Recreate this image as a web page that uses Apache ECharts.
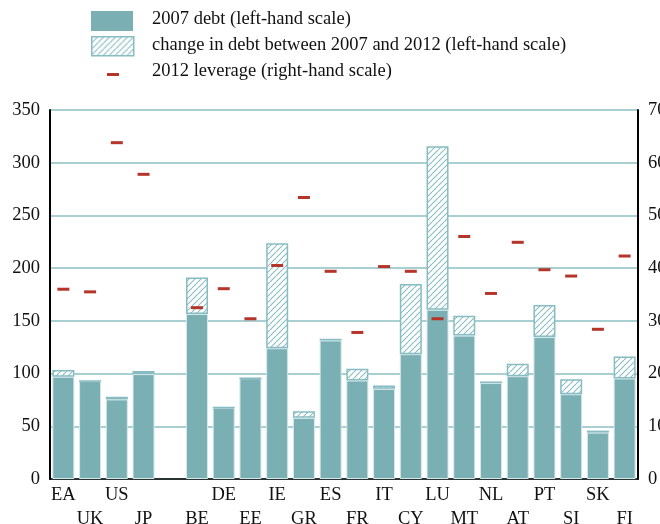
<!DOCTYPE html>
<html>
<head>
<meta charset="utf-8">
<script src="https://cdn.jsdelivr.net/npm/echarts@6/dist/echarts.min.js"></script>
<style>
html,body{margin:0;padding:0;background:#fff;}
#chart{width:660px;height:524px;}
</style>
</head>
<body>
<div id="chart"></div>
<script>
// ---- data ----
var categories = ['EA','UK','US','JP','','BE','DE','EE','IE','GR','ES','FR','IT','CY','LU','MT','NL','AT','PT','SI','SK','FI'];
var debt2007 = [97, 93, 75.5, 99.5, '-', 156.5, 67.7, 95.6, 124, 58, 131.4, 93.4, 85.5, 118.4, 160.5, 136, 91, 97.5, 134.6, 80.4, 44, 95.3];
var debtChange = [6.5, 0, 2.5, 3, '-', 34.7, 0, 0, 99.5, 6.3, 1.6, 11.1, 3.1, 66.5, 155.1, 18.8, 1.5, 11.7, 30.4, 14.3, 1.9, 20.9];
var leverage2012 = [36.0, 35.5, 63.8, 57.8, '-', 32.5, 36.1, 30.4, 40.5, 53.4, 39.4, 27.8, 40.3, 39.4, 30.4, 46.0, 35.2, 44.9, 39.7, 38.5, 28.4, 42.3];
var leftTicks = { min: 0, max: 350, interval: 50 };
var rightTicks = { min: 0, max: 70, interval: 10 };
var seriesNames = ['2007 debt (left-hand scale)', 'change in debt between 2007 and 2012 (left-hand scale)', '2012 leverage (right-hand scale)'];

// ---- styles ----
var FONT = '"Liberation Serif", "DejaVu Serif", serif';
var TEAL = '#7aafb4';
var HATCH = '#86bcc2';
var RED = '#b5352a';

function makeHatch() {
  var s = 6;
  var c = document.createElement('canvas');
  c.width = s; c.height = s;
  var g = c.getContext('2d');
  g.fillStyle = '#ffffff';
  g.fillRect(0, 0, s, s);
  g.strokeStyle = HATCH;
  g.lineWidth = 1.1;
  for (var k = -s; k <= s; k += s) {
    g.beginPath();
    g.moveTo(k, s);
    g.lineTo(k + s, 0);
    g.stroke();
  }
  return c;
}
var hatchCanvas = makeHatch();

var chart = echarts.init(document.getElementById('chart'), null, { renderer: 'canvas' });

var option = {
  animation: false,
  backgroundColor: '#ffffff',
  grid: { left: 50, right: 22, top: 110, bottom: 45, containLabel: false, outerBoundsMode: 'none' },
  xAxis: {
    type: 'category',
    data: categories,
    axisLine: { lineStyle: { color: '#000', width: 1.5 } },
    axisTick: { alignWithLabel: true, length: 5, lineStyle: { color: '#000' } },
    axisLabel: {
      interval: 0,
      margin: 4,
      fontFamily: FONT,
      fontSize: 18.5,
      color: '#111',
      lineHeight: 24,
      formatter: function (v, i) { return (i % 2 === 1) ? '\n' + v : v; }
    }
  },
  yAxis: [
    {
      type: 'value',
      min: leftTicks.min, max: leftTicks.max, interval: leftTicks.interval,
      axisLine: { show: true, lineStyle: { color: '#000', width: 2 } },
      axisTick: { show: false },
      axisLabel: { fontFamily: FONT, fontSize: 18.5, color: '#111', margin: 10 },
      splitLine: { show: true, lineStyle: { color: '#8cbfc4', width: 1.5 } }
    },
    {
      type: 'value',
      min: rightTicks.min, max: rightTicks.max, interval: rightTicks.interval,
      position: 'right',
      axisLine: { show: true, lineStyle: { color: '#000', width: 2 } },
      axisTick: { show: false },
      axisLabel: { fontFamily: FONT, fontSize: 18.5, color: '#111', margin: 10 },
      splitLine: { show: false }
    }
  ],
  series: [
    {
      name: seriesNames[0],
      type: 'bar',
      stack: 'debt',
      barWidth: 22,
      data: debt2007,
      itemStyle: { color: TEAL, borderColor: '#d6e8ea', borderWidth: 1 },
      z: 2
    },
    {
      name: seriesNames[1],
      type: 'bar',
      stack: 'debt',
      barWidth: 22,
      data: debtChange,
      itemStyle: {
        color: { image: hatchCanvas, repeat: 'repeat' },
        borderColor: HATCH,
        borderWidth: 1.5
      },
      z: 2
    },
    {
      name: seriesNames[2],
      type: 'scatter',
      yAxisIndex: 1,
      symbol: 'rect',
      symbolSize: [12, 3],
      data: leverage2012,
      itemStyle: { color: RED, opacity: 1 },
      z: 5
    }
  ],
  graphic: [
    { type: 'rect', left: 91, top: 11, shape: { width: 42, height: 20 }, style: { fill: TEAL } },
    { type: 'rect', left: 91, top: 36, shape: { width: 42, height: 19 },
      style: { fill: { image: hatchCanvas, repeat: 'repeat' }, stroke: HATCH, lineWidth: 1.5 } },
    { type: 'rect', left: 107, top: 73, shape: { width: 12, height: 3 }, style: { fill: RED } },
    { type: 'text', left: 152, top: 10, style: { text: seriesNames[0], font: '18.5px ' + FONT, fill: '#111' } },
    { type: 'text', left: 152, top: 36, style: { text: seriesNames[1], font: '18.5px ' + FONT, fill: '#111' } },
    { type: 'text', left: 152, top: 62, style: { text: seriesNames[2], font: '18.5px ' + FONT, fill: '#111' } }
  ]
};
chart.setOption(option);
</script>
</body>
</html>
